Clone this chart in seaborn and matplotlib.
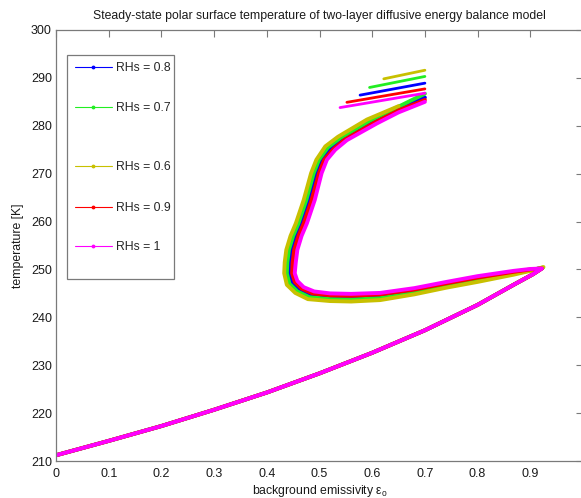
import matplotlib
matplotlib.use("Agg")
import matplotlib.pyplot as plt
from matplotlib.lines import Line2D
from matplotlib.patches import Rectangle
import numpy as np
import pandas as pd
import seaborn as sns

# Relative humidity labels, in legend order
rhs_labels = ["RHs = 0.8", "RHs = 0.7", "RHs = 0.6", "RHs = 0.9", "RHs = 1"]
rhs_colors = ["#0000ff", "#22ee22", "#c8c000", "#ff0000", "#ff00ff"]

# Cold branch shared by every humidity setting
eps_lower = [0.0, 0.1, 0.2, 0.3, 0.4, 0.5, 0.6, 0.7, 0.8, 0.87, 0.905]
T_lower = [211.2, 214.2, 217.3, 220.7, 224.3, 228.3, 232.6, 237.3, 242.6, 246.9, 249.0]

# Turning-point and warm branches for each humidity
eps_rh08 = [0.923, 0.90, 0.868, 0.80, 0.741, 0.68, 0.615, 0.56, 0.52, 0.484, 0.462, 0.448, 0.443,
            0.444, 0.447, 0.455, 0.465, 0.480, 0.494, 0.504, 0.521, 0.544, 0.60, 0.65, 0.70]
T_rh08 = [250.3, 249.9, 249.3, 248.0, 246.8, 245.4, 244.4, 244.1, 244.2, 244.6, 245.7, 247.2, 249.2,
          251.5, 254.1, 257.0, 259.6, 264.5, 270.1, 272.9, 275.3, 277.3, 280.9, 283.5, 285.9]

eps_rh07 = [0.924, 0.90, 0.868, 0.80, 0.741, 0.68, 0.615, 0.56, 0.52, 0.481, 0.458, 0.443, 0.438,
            0.439, 0.442, 0.450, 0.460, 0.475, 0.489, 0.499, 0.516, 0.54, 0.596, 0.65, 0.70]
T_rh07 = [250.4, 249.8, 249.1, 247.7, 246.5, 245.1, 244.0, 243.7, 243.8, 244.2, 245.4, 247.0, 249.2,
          251.5, 254.1, 257.0, 259.6, 264.5, 270.1, 272.9, 275.5, 277.5, 281.1, 284.0, 286.7]

eps_rh06 = [0.925, 0.90, 0.868, 0.80, 0.741, 0.68, 0.615, 0.56, 0.52, 0.478, 0.454, 0.438, 0.433,
            0.434, 0.437, 0.445, 0.455, 0.47, 0.484, 0.494, 0.511, 0.535, 0.59, 0.65]
T_rh06 = [250.5, 249.7, 248.9, 247.4, 246.2, 244.8, 243.6, 243.3, 243.4, 243.8, 245.1, 246.8, 249.2,
          251.5, 254.1, 257.0, 259.6, 264.5, 270.1, 272.9, 275.7, 277.7, 281.3, 284.1]

eps_rh09 = [0.922, 0.90, 0.868, 0.80, 0.741, 0.68, 0.615, 0.56, 0.52, 0.487, 0.466, 0.453, 0.448,
            0.449, 0.452, 0.460, 0.470, 0.485, 0.499, 0.509, 0.526, 0.548, 0.605, 0.65, 0.70]
T_rh09 = [250.2, 250.0, 249.5, 248.3, 247.1, 245.8, 244.8, 244.5, 244.6, 245.0, 246.0, 247.4, 249.2,
          251.5, 254.1, 257.0, 259.6, 264.5, 270.1, 272.9, 275.1, 277.1, 280.7, 283.2, 285.4]

eps_rh10 = [0.922, 0.90, 0.868, 0.80, 0.741, 0.68, 0.615, 0.56, 0.52, 0.49, 0.47, 0.458, 0.453,
            0.455, 0.458, 0.466, 0.476, 0.491, 0.504, 0.514, 0.53, 0.552, 0.609, 0.65, 0.70]
T_rh10 = [250.2, 250.1, 249.7, 248.6, 247.4, 246.1, 245.1, 244.9, 245.0, 245.4, 246.3, 247.6, 249.2,
          251.5, 254.1, 257.0, 259.6, 264.5, 270.1, 272.9, 275.0, 277.0, 280.5, 282.8, 285.0]

# Detached hot branch for each humidity
eps_top = {"RHs = 0.8": [0.577, 0.70], "RHs = 0.7": [0.595, 0.70], "RHs = 0.6": [0.622, 0.70],
           "RHs = 0.9": [0.552, 0.70], "RHs = 1": [0.539, 0.70]}
T_top = {"RHs = 0.8": [286.4, 288.9], "RHs = 0.7": [288.0, 290.3], "RHs = 0.6": [289.8, 291.6],
         "RHs = 0.9": [284.9, 287.7], "RHs = 1": [283.8, 286.8]}

main_eps = {"RHs = 0.8": eps_rh08, "RHs = 0.7": eps_rh07, "RHs = 0.6": eps_rh06,
            "RHs = 0.9": eps_rh09, "RHs = 1": eps_rh10}
main_T = {"RHs = 0.8": T_rh08, "RHs = 0.7": T_rh07, "RHs = 0.6": T_rh06,
          "RHs = 0.9": T_rh09, "RHs = 1": T_rh10}

main_rows = []
top_rows = []
for lab in rhs_labels:
    xs = eps_lower + main_eps[lab]
    ys = T_lower + main_T[lab]
    for x, y in zip(xs, ys):
        main_rows.append({"eps": x, "T": y, "RHs": lab, "seg": lab + "-main"})
    for x, y in zip(eps_top[lab], T_top[lab]):
        top_rows.append({"eps": x, "T": y, "RHs": lab, "seg": lab + "-top"})
df_main = pd.DataFrame(main_rows)
df_top = pd.DataFrame(top_rows)

sns.set_theme(style="white")
plt.rcParams["font.family"] = ["Liberation Sans", "DejaVu Sans"]

palette = dict(zip(rhs_labels, rhs_colors))
W, H = 581, 498

fig = plt.figure(figsize=(W / 100, H / 100), dpi=100)
ax = fig.add_axes([56 / W, 37 / H, 527 / W, 431 / H])

sns.lineplot(data=df_main, x="eps", y="T", hue="RHs", hue_order=rhs_labels, palette=palette,
             units="seg", estimator=None, sort=False, linewidth=2.8, legend=False, ax=ax)
sns.lineplot(data=df_top, x="eps", y="T", hue="RHs", hue_order=rhs_labels, palette=palette,
             units="seg", estimator=None, sort=False, linewidth=2.0, legend=False, ax=ax)

ax.set_xlim(0, 1)
ax.set_ylim(210, 300)
ax.set_xticks(np.arange(0, 0.95, 0.1))
ax.set_xticklabels(["0"] + [f"{v:.1f}" for v in np.arange(0.1, 0.95, 0.1)])
ax.set_yticks(np.arange(210, 301, 10))

frame_color = "#7a7a7a"
for sp in ax.spines.values():
    sp.set_color(frame_color)
    sp.set_linewidth(0.9)
ax.tick_params(axis="both", direction="in", length=5, width=0.8, color=frame_color,
               labelsize=9, labelcolor="#1a1a1a", top=True, right=True)
ax.tick_params(axis="x", pad=5)
ax.tick_params(axis="y", pad=3)

ax.set_title("Steady-state polar surface temperature of two-layer diffusive energy balance model",
             fontsize=8.8, color="#1a1a1a", pad=8)
ax.set_xlabel("background emissivity ε$_{\\mathregular{o}}$", fontsize=8.8, color="#1a1a1a", labelpad=2)
ax.set_ylabel("temperature [K]", fontsize=8.8, color="#1a1a1a", labelpad=5)

# Legend box with individually placed entries
ax.add_patch(Rectangle((67 / W, 1 - 279 / H), (174 - 67) / W, (279 - 55) / H,
                       transform=fig.transFigure, facecolor="white", edgecolor=frame_color,
                       linewidth=0.9, zorder=5))
entry_y = [68, 108, 167, 208, 247]
for lab, col, yy in zip(rhs_labels, rhs_colors, entry_y):
    h = Line2D([0], [0], color=col, lw=0.8, marker=".", markersize=3.5)
    lg = fig.legend([h], [lab], loc="center left", bbox_to_anchor=(75 / W, 1 - yy / H),
                    frameon=False, fontsize=8.8, handlelength=3.0, handletextpad=0.35,
                    borderpad=0.0, borderaxespad=0.0, numpoints=1)
    lg.set_zorder(6)

fig.savefig("out.png", dpi=100)
